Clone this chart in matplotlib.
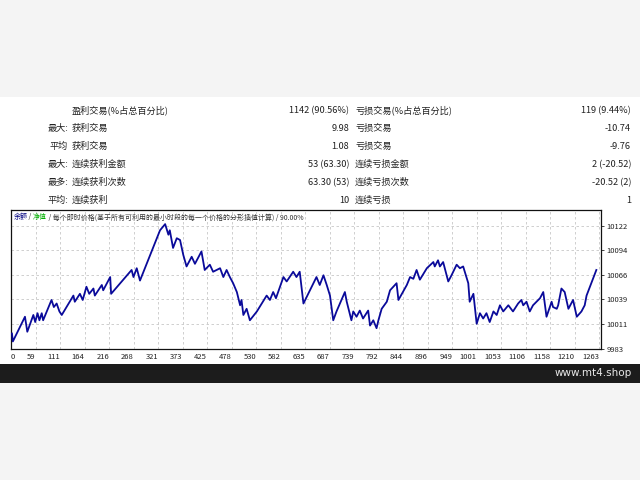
import numpy as np
import matplotlib.pyplot as plt
from matplotlib.patches import Rectangle

plt.rcParams['font.family'] = ['Noto Sans CJK SC', 'DejaVu Sans']

# --- summary table ---
row_heads = ["", "最大:", "平均", "最大:", "最多:", "平均:"]
win_labels = ["盈利交易(%占总百分比)", "获利交易", "获利交易", "连续获利金额", "连续获利次数", "连续获利"]
win_values = ["1142 (90.56%)", "9.98", "1.08", "53 (63.30)", "63.30 (53)", "10"]
loss_labels = ["亏损交易(%占总百分比)", "亏损交易", "亏损交易", "连续亏损金额", "连续亏损次数", "连续亏损"]
loss_values = ["119 (9.44%)", "-10.74", "-9.76", "2 (-20.52)", "-20.52 (2)", "1"]

# --- balance curve (trade number, balance) ---
trades = [2, 4, 30, 35, 48, 52, 57, 61, 66, 69, 87, 92, 98, 104, 109, 134, 137, 148, 154, 162,
          168, 177, 180, 195, 198, 213, 215, 259, 263, 270, 277, 313, 320, 331, 338, 341, 348, 356,
          363, 370, 377, 388, 395, 409, 416, 427, 434, 449, 456, 463, 470, 477, 485, 492, 495, 499,
          506, 513, 528, 549, 556, 563, 569, 585, 592, 606, 613, 620, 628, 656, 663, 671, 678, 685,
          692, 699, 717, 721, 731, 735, 742, 749, 756, 767, 771, 778, 785, 789, 796, 807, 814, 828,
          832, 850, 857, 864, 871, 878, 893, 907, 910, 917, 921, 928, 939, 946, 957, 964, 971, 978,
          982, 985, 993, 1000, 1007, 1014, 1021, 1028, 1036, 1043, 1050, 1057, 1068, 1078, 1089,
          1096, 1100, 1107, 1114, 1121, 1136, 1143, 1150, 1161, 1164, 1172, 1175, 1182, 1189, 1197,
          1207, 1215, 1225, 1232, 1236, 1257]
balance = [10000, 9991, 10019, 10002, 10021, 10013, 10023, 10015, 10023, 10015, 10038, 10030,
           10034, 10025, 10021, 10043, 10036, 10045, 10038, 10053, 10045, 10051, 10043, 10055,
           10049, 10064, 10045, 10072, 10064, 10074, 10060, 10108, 10117, 10124, 10112, 10117,
           10097, 10108, 10106, 10089, 10076, 10087, 10079, 10093, 10072, 10078, 10070, 10074,
           10064, 10072, 10064, 10057, 10047, 10032, 10038, 10021, 10028, 10015, 10025, 10043,
           10038, 10047, 10040, 10064, 10059, 10070, 10064, 10070, 10034, 10064, 10055, 10066,
           10055, 10043, 10015, 10025, 10047, 10036, 10015, 10025, 10019, 10026, 10017, 10026,
           10009, 10015, 10006, 10015, 10028, 10036, 10049, 10057, 10038, 10055, 10064, 10062,
           10072, 10061, 10074, 10081, 10076, 10083, 10076, 10081, 10059, 10066, 10078, 10074,
           10076, 10064, 10057, 10036, 10045, 10011, 10023, 10017, 10023, 10013, 10025, 10021,
           10032, 10025, 10032, 10025, 10034, 10038, 10032, 10036, 10025, 10032, 10040, 10047,
           10019, 10036, 10030, 10028, 10032, 10051, 10047, 10028, 10038, 10019, 10025, 10032,
           10043, 10072]

x_labels = ["0", "59", "111", "164", "216", "268", "321", "373", "425", "478", "530", "582", "635",
            "687", "739", "792", "844", "896", "949", "1001", "1053", "1106", "1158", "1210", "1263"]
y_labels = ["9983", "10011", "10039", "10066", "10094", "10122"]

title_parts = [("余额", "#000080"), (" / ", "#333333"), ("净值", "#00b000"),
               (" / 每个即时价格(基于所有可利用的最小时段的每一个价格的分形插值计算) / 90.00%", "#333333")]

W, H = 640, 480
fig = plt.figure(figsize=(6.4, 4.8), dpi=100)
fig.patch.set_facecolor("#f4f4f4")


def fx(px):
    return px / W


def fy(py):
    return 1 - py / H


# white panel + dark footer bar
fig.patches.append(Rectangle((0, fy(364)), 1, (364 - 97) / H, transform=fig.transFigure,
                             facecolor="white", edgecolor="none", zorder=-2))
fig.patches.append(Rectangle((0, fy(383)), 1, 19 / H, transform=fig.transFigure,
                             facecolor="#1c1c1c", edgecolor="none", zorder=-2))
fig.text(fx(632), fy(373.5), "www.mt4.shop", color="#e8e8e8", fontsize=7.5,
         ha="right", va="center", family=["DejaVu Sans"])

# table
fs = 6.6
row_y = [110.5, 128.5, 146.5, 164.5, 182.5, 200.5]
for i, yy in enumerate(row_y):
    fig.text(fx(68), fy(yy), row_heads[i], fontsize=fs, ha="right", va="center", color="#222222")
    fig.text(fx(72), fy(yy), win_labels[i], fontsize=fs, ha="left", va="center", color="#222222")
    fig.text(fx(349), fy(yy), win_values[i], fontsize=fs, ha="right", va="center", color="#222222")
    fig.text(fx(355), fy(yy), loss_labels[i], fontsize=fs, ha="left", va="center", color="#222222")
    fig.text(fx(631), fy(yy), loss_values[i], fontsize=fs, ha="right", va="center", color="#222222")

# chart
ax = fig.add_axes([fx(11), fy(348.5), (601 - 11) / W, (348.5 - 210) / H])
ax.set_zorder(2)
ax.set_facecolor("white")
ax.plot(trades, balance, color="#0a0a9a", linewidth=1.3, zorder=3)

x_max = 1267
y_min, y_step = 9983, 27.8
x_pos = np.arange(len(x_labels)) * (1263 / 24)
y_pos = y_min + np.arange(len(y_labels)) * y_step
ax.set_xlim(0, x_max)
ax.set_ylim(y_min, 10140)
ax.set_xticks(x_pos)
ax.set_xticklabels(x_labels)
for i, t in enumerate(ax.get_xticklabels()):
    t.set_ha("left" if i == 0 else "right")
ax.set_yticks(y_pos)
ax.set_yticklabels(y_labels)
ax.yaxis.tick_right()
ax.tick_params(axis="both", labelsize=5.5, colors="#222222", length=2.5, width=0.6, pad=1.5)
ax.tick_params(axis="x", length=0, pad=3)
ax.grid(True, color="#c8c8c8", linestyle=(0, (3, 3)), linewidth=0.6)
for s in ax.spines.values():
    s.set_color("#111111")
    s.set_linewidth(0.9)

# title line inside the chart
tx = 0.004
for text, col in title_parts:
    t = ax.text(tx, 0.975, text, transform=ax.transAxes, fontsize=5.0, color=col,
                ha="left", va="top", zorder=5)
    fig.canvas.draw()
    bb = t.get_window_extent().transformed(ax.transAxes.inverted())
    tx = bb.x1

fig.savefig("out.png", dpi=100)
